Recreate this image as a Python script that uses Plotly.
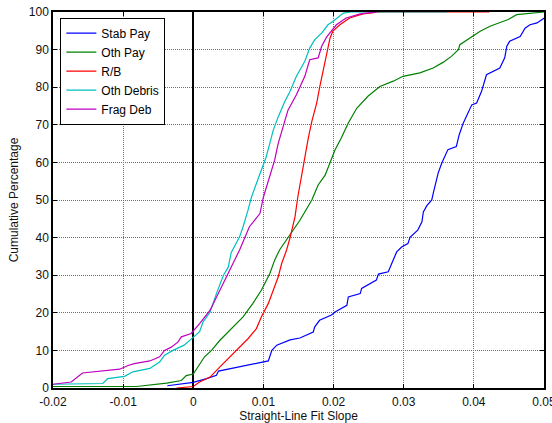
import plotly.graph_objects as go

# Cumulative distributions of straight-line fit slopes by object class
stab_pay_x = [-0.0037, -0.0010, 0.0000, 0.0019, 0.0033, 0.0036, 0.0066, 0.0090, 0.0107, 0.0112,
              0.0119, 0.0138, 0.0152, 0.0171, 0.0173, 0.0180, 0.0197, 0.0202, 0.0219, 0.0221,
              0.0238, 0.0240, 0.0261, 0.0264, 0.0278, 0.0287, 0.0290, 0.0297, 0.0306, 0.0309,
              0.0316, 0.0320, 0.0326, 0.0328, 0.0333, 0.0340, 0.0342, 0.0345, 0.0349, 0.0354,
              0.0359, 0.0363, 0.0375, 0.0379, 0.0385, 0.0390, 0.0397, 0.0404, 0.0411, 0.0418,
              0.0428, 0.0437, 0.0444, 0.0447, 0.0451, 0.0466, 0.0473, 0.0480, 0.0490, 0.0502]
stab_pay_y = [0.6, 1.2, 1.5, 2.5, 3.4, 4.5, 5.6, 6.5, 7.2, 10.0,
              11.4, 12.8, 13.3, 14.9, 16.2, 18.0, 19.4, 20.2, 22.0, 24.2,
              25.1, 26.5, 28.7, 30.3, 30.9, 34.9, 36.2, 37.5, 38.4, 40.1,
              41.4, 42.0, 44.2, 46.8, 48.5, 50.0, 51.7, 54.4, 57.1, 59.7,
              62.0, 63.4, 64.2, 67.3, 70.5, 72.7, 75.3, 75.8, 78.9, 83.3,
              84.2, 85.1, 87.8, 90.9, 92.2, 93.5, 95.7, 96.6, 97.1, 98.6]

oth_pay_x = [-0.0200, -0.0081, -0.0038, -0.0017, -0.0010, 0.0000, 0.0016, 0.0026, 0.0038, 0.0052,
             0.0071, 0.0085, 0.0097, 0.0109, 0.0116, 0.0123, 0.0137, 0.0152, 0.0169, 0.0178,
             0.0188, 0.0195, 0.0202, 0.0211, 0.0221, 0.0233, 0.0249, 0.0266, 0.0285, 0.0299,
             0.0323, 0.0342, 0.0356, 0.0368, 0.0378, 0.0380, 0.0397, 0.0409, 0.0423, 0.0437,
             0.0449, 0.0461, 0.0485, 0.0500]
oth_pay_y = [0.4, 0.4, 1.3, 2.0, 3.3, 3.7, 8.3, 10.0, 12.7, 15.4,
             18.9, 22.5, 26.0, 30.4, 34.0, 36.7, 40.6, 44.6, 50.0, 54.0,
             56.6, 60.2, 63.3, 66.5, 70.5, 74.4, 77.6, 80.2, 81.6, 82.9,
             83.8, 85.1, 86.6, 88.2, 90.0, 91.3, 93.5, 94.9, 96.2, 97.1,
             98.0, 99.3, 99.7, 100.0]

rb_x = [-0.0024, 0.0000, 0.0009, 0.0024, 0.0038, 0.0052, 0.0066, 0.0078, 0.0090, 0.0097,
        0.0107, 0.0114, 0.0121, 0.0126, 0.0133, 0.0138, 0.0145, 0.0149, 0.0154, 0.0158,
        0.0164, 0.0169, 0.0176, 0.0180, 0.0185, 0.0190, 0.0195, 0.0199, 0.0209, 0.0223,
        0.0242, 0.0266, 0.0422]
rb_y = [0.0, 0.4, 1.6, 2.9, 5.6, 8.3, 10.9, 13.1, 15.8, 18.9,
        22.5, 26.0, 29.5, 33.1, 36.7, 40.0, 45.5, 50.8, 56.2, 60.6,
        66.5, 70.9, 75.8, 79.8, 84.2, 88.6, 93.1, 94.9, 96.6, 98.4,
        99.5, 100.0, 100.0]

oth_debris_x = [-0.0200, -0.0129, -0.0122, -0.0098, -0.0086, -0.0062, -0.0048, -0.0041, -0.0029, -0.0013,
                -0.0003, 0.0009, 0.0014, 0.0024, 0.0033, 0.0043, 0.0050, 0.0054, 0.0066, 0.0071,
                0.0078, 0.0083, 0.0090, 0.0097, 0.0104, 0.0109, 0.0114, 0.0121, 0.0130, 0.0138,
                0.0147, 0.0159, 0.0166, 0.0173, 0.0183, 0.0192, 0.0199, 0.0214, 0.0225, 0.0362]
oth_debris_y = [1.0, 1.2, 2.5, 3.1, 4.3, 5.2, 6.9, 8.7, 10.0, 11.4,
                13.0, 15.0, 17.6, 20.2, 25.1, 30.0, 32.2, 36.0, 40.2, 42.9,
                47.3, 50.8, 54.4, 57.9, 61.5, 65.0, 68.6, 72.1, 76.0, 78.9,
                82.9, 86.9, 90.4, 92.6, 94.4, 96.6, 97.5, 99.7, 100.0, 100.0]

frag_deb_x = [-0.0200, -0.0174, -0.0158, -0.0115, -0.0105, -0.0093, -0.0084, -0.0062, -0.0048, -0.0041,
              -0.0032, -0.0022, -0.0017, -0.0003, 0.0009, 0.0024, 0.0038, 0.0047, 0.0057, 0.0066,
              0.0080, 0.0095, 0.0100, 0.0109, 0.0116, 0.0121, 0.0128, 0.0135, 0.0147, 0.0159,
              0.0166, 0.0178, 0.0183, 0.0190, 0.0204, 0.0218, 0.0238, 0.0261]
frag_deb_y = [1.0, 1.6, 4.0, 4.7, 5.0, 6.0, 6.5, 7.2, 8.3, 10.0,
              10.8, 12.2, 13.6, 14.5, 17.1, 20.7, 26.0, 29.5, 33.1, 36.7,
              42.9, 46.4, 50.8, 56.2, 60.6, 65.0, 69.5, 73.9, 78.0, 82.9,
              87.3, 87.8, 90.9, 93.3, 96.6, 98.4, 99.5, 100.0]

series = [
    ("Stab Pay", stab_pay_x, stab_pay_y, "#0000FF"),
    ("Oth Pay", oth_pay_x, oth_pay_y, "#008000"),
    ("R/B", rb_x, rb_y, "#FF0000"),
    ("Oth Debris", oth_debris_x, oth_debris_y, "#00BFBF"),
    ("Frag Deb", frag_deb_x, frag_deb_y, "#BF00BF"),
]

x_ticks = [-0.02, -0.01, 0, 0.01, 0.02, 0.03, 0.04, 0.05]
x_tick_text = ["-0.02", "-0.01", "0", "0.01", "0.02", "0.03", "0.04", "0.05"]
y_ticks = [0, 10, 20, 30, 40, 50, 60, 70, 80, 90, 100]

fig = go.Figure()
for name, xs, ys, color in series:
    fig.add_trace(go.Scatter(x=xs, y=ys, mode="lines", name=name,
                             line=dict(color=color, width=1.2)))

font = dict(family="Liberation Sans, Arial, sans-serif", size=12, color="#111111")

axis_common = dict(
    showline=True, linecolor="black", linewidth=1.5, mirror="ticks",
    ticks="inside", ticklen=4, tickcolor="black",
    showgrid=True, gridcolor="#6e6e6e", griddash="1px,1px", gridwidth=1,
    tickfont=font,
)

fig.update_xaxes(range=[-0.02, 0.05], tickvals=x_ticks, ticktext=x_tick_text,
                 ticklabeloverflow="allow", ticklabelstandoff=2,
                 zeroline=True, zerolinecolor="black", zerolinewidth=2,
                 title=dict(text="Straight-Line Fit Slope", font=font, standoff=4),
                 **axis_common)
fig.update_yaxes(range=[0, 100], tickvals=y_ticks, zeroline=False,
                 title=dict(text="Cumulative Percentage", font=font, standoff=8),
                 **axis_common)

fig.update_layout(
    width=552, height=423,
    margin=dict(l=53, r=8, t=12, b=35, autoexpand=False),
    paper_bgcolor="white", plot_bgcolor="white",
    font=font,
    showlegend=True,
    legend=dict(x=0.015, y=0.985, xanchor="left", yanchor="top",
                bgcolor="white", bordercolor="black", borderwidth=1,
                font=dict(family="Liberation Sans, Arial, sans-serif", size=12, color="black"),
                tracegroupgap=0, itemwidth=30),
)

fig.write_html("out.html")
